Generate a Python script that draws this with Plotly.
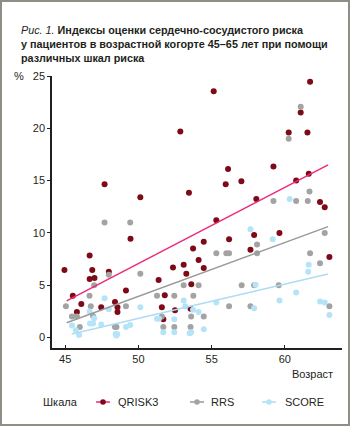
import plotly.graph_objects as go

# ---------------- data ----------------
qrisk_age = [44.95, 45.52, 45.8, 46.1, 46.67, 46.67, 46.85, 47.0, 47.46, 47.69, 47.98, 48.4, 48.57, 48.57,
             49.15, 49.46, 50.13, 51.38, 51.6, 51.7, 51.8, 52.36, 52.5, 52.86, 53.09, 53.27, 53.45, 53.56,
             53.61, 53.73, 54.11, 54.46, 54.46, 55.14, 55.32, 55.96, 56.12, 56.19, 57.03, 57.65, 57.9,
             58.05, 59.22, 59.63, 60.26, 60.77, 61.08, 61.54, 61.63, 61.72, 62.4, 62.72, 63.04]
qrisk_val = [6.45, 4.0, 2.45, 3.2, 7.85, 5.6, 6.45, 5.7, 2.9, 14.65, 6.3, 3.4, 2.9, 2.45,
             4.5, 9.45, 13.4, 5.5, 2.9, 1.75, 4.05, 6.7, 2.6, 19.7, 6.95, 6.1, 13.85, 2.75,
             5.1, 8.5, 7.4, 9.15, 6.65, 23.55, 11.2, 14.65, 16.1, 9.4, 14.95, 8.4, 9.8,
             13.25, 16.35, 10.0, 19.6, 15.0, 21.5, 19.6, 15.65, 24.45, 12.95, 12.45, 7.7]

rrs_age = [45.05, 45.46, 45.8, 46.0, 46.66, 46.75, 46.9, 46.98, 47.69, 47.98, 48.4, 48.5, 49.15, 49.44,
           50.13, 51.27, 51.6, 51.7, 52.45, 52.45, 53.09, 53.6, 53.56, 53.75, 54.11, 54.46, 55.32, 56.0,
           56.19, 56.19, 57.05, 57.65, 57.9, 58.1, 58.1, 59.22, 59.58, 60.26, 60.77, 61.08, 61.56,
           61.68, 61.72, 62.4, 62.72, 63.04]
rrs_val = [3.0, 2.0, 2.0, 1.0, 4.0, 3.0, 2.05, 5.0, 11.0, 6.0, 1.0, 1.0, 3.0, 11.0,
           6.1, 4.0, 2.0, 1.0, 4.0, 1.0, 5.0, 2.0, 1.0, 4.0, 5.0, 2.0, 8.05, 8.05,
           8.05, 3.0, 5.0, 3.0, 5.0, 8.9, 8.05, 13.05, 5.0, 19.0, 13.05, 22.05, 13.05,
           13.95, 8.05, 7.1, 10.0, 3.0]

score_age = [45.46, 45.73, 45.95, 46.67, 46.7, 46.9, 46.98, 47.46, 47.69, 47.98, 48.45, 48.5, 48.55,
             49.15, 49.44, 50.13, 51.27, 51.4, 51.7, 52.45, 52.45, 53.09, 53.2, 53.5, 53.6, 53.73,
             54.11, 54.46, 55.32, 57.65, 57.9, 58.0, 59.17, 59.63, 60.33, 60.77, 61.59, 61.63, 62.4,
             62.72, 63.04]
score_val = [1.15, 0.7, 0.25, 2.5, 1.35, 1.35, 1.85, 1.25, 3.75, 2.7, 0.35, 0.2, 0.35,
             1.0, 1.2, 2.9, 1.8, 1.8, 0.5, 1.75, 0.5, 3.55, 3.0, 0.4, 0.5, 2.65,
             2.45, 0.8, 3.35, 10.35, 2.8, 5.05, 9.4, 3.55, 13.25, 4.3, 6.3, 6.95, 3.45,
             3.35, 2.15]

# trend lines (end points)
qrisk_trend_age = [45.1, 62.95]
qrisk_trend_val = [3.5, 16.5]
rrs_trend_age = [45.1, 62.95]
rrs_trend_val = [1.42, 10.6]
score_trend_age = [45.45, 62.95]
score_trend_val = [0.33, 6.08]

series_names = ["QRISK3", "RRS", "SCORE"]
x_ticks = [45, 50, 55, 60]
y_ticks = [0, 5, 10, 15, 20, 25]

# ---------------- style ----------------
FONT = "Liberation Sans, Arial, Helvetica, sans-serif"
TXT = "#231f20"
dot_colors = ["#7d0a16", "#a3a3a3", "#b5e3f8"]
line_colors = ["#ee2a7b", "#9a9a9a", "#addcf4"]

fig = go.Figure()

for name, xs, ys, dc in zip(series_names, [qrisk_age, rrs_age, score_age],
                            [qrisk_val, rrs_val, score_val], dot_colors):
    fig.add_trace(go.Scatter(x=xs, y=ys, mode="markers", name=name, showlegend=False,
                             marker=dict(size=6, color=dc, line=dict(width=0))))

for name, xs, ys, lc in zip(series_names, [qrisk_trend_age, rrs_trend_age, score_trend_age],
                            [qrisk_trend_val, rrs_trend_val, score_trend_val], line_colors):
    fig.add_trace(go.Scatter(x=xs, y=ys, mode="lines", name=name, showlegend=False,
                             line=dict(color=lc, width=1.5)))

L, R, T, B = 52, 8, 76, 78
W, H = 350, 426
PW, PH = W - L - R, H - T - B

def px(xp):
    return (xp - L) / PW

def py(yp):
    return (H - B - yp) / PH

shapes = [dict(type="rect", xref="paper", yref="paper",
               x0=px(1), x1=px(349), y0=py(425), y1=py(1),
               line=dict(color="#8e8e86", width=2), fillcolor="rgba(0,0,0,0)", layer="above")]

annotations = [
    dict(text="%", xref="paper", yref="paper", x=px(19), y=py(76), xanchor="center",
         yanchor="middle", showarrow=False, font=dict(size=11, color=TXT)),
    dict(text="Возраст", xref="paper", yref="paper", x=px(335), y=py(374), xanchor="right",
         yanchor="middle", showarrow=False, font=dict(size=11, color=TXT)),
    dict(text="Шкала", xref="paper", yref="paper", x=px(41), y=py(402), xanchor="left",
         yanchor="middle", showarrow=False, font=dict(size=11, color=TXT)),
]

# hand-built legend (short line with dot, like the reference)
legend_mark_x = [103, 197, 269]
legend_text_x = [116, 209, 283]
LY = 402
for name, mx, tx, dc, lc in zip(series_names, legend_mark_x, legend_text_x, dot_colors, line_colors):
    shapes.append(dict(type="line", xref="paper", yref="paper",
                       x0=px(mx - 7), x1=px(mx + 7), y0=py(LY), y1=py(LY),
                       line=dict(color=lc, width=1.5)))
    shapes.append(dict(type="circle", xref="paper", yref="paper",
                       x0=px(mx - 2.8), x1=px(mx + 2.8), y0=py(LY + 2.8), y1=py(LY - 2.8),
                       line=dict(width=0), fillcolor=dc))
    annotations.append(dict(text=name, xref="paper", yref="paper", x=px(tx), y=py(LY),
                            xanchor="left", yanchor="middle", showarrow=False,
                            font=dict(size=11, color=TXT)))

fig.update_layout(
    width=W, height=H,
    margin=dict(l=L, r=R, t=T, b=B, pad=0),
    paper_bgcolor="white", plot_bgcolor="white",
    font=dict(family=FONT, size=11, color=TXT),
    title=dict(text="<i>Рис. 1.</i> <b>Индексы оценки сердечно-сосудистого риска</b><br>"
                    "<b>у пациентов в возрастной когорте 45–65 лет при помощи</b><br>"
                    "<b>различных шкал риска</b>",
               xref="container", yref="container", x=21 / W, xanchor="left",
               y=1 - 34 / H, yanchor="top", font=dict(size=10.8, color=TXT, family=FONT)),
    xaxis=dict(range=[44.1, 63.9], tickvals=x_ticks, ticks="inside", ticklen=3,
               tickcolor=TXT, showline=True, linecolor=TXT, linewidth=1.5,
               showgrid=False, zeroline=False, tickfont=dict(size=11)),
    yaxis=dict(range=[-1, 25], tickvals=y_ticks, ticks="outside", ticklen=3,
               tickcolor=TXT, showline=True, linecolor=TXT, linewidth=1.5,
               showgrid=False, zeroline=False, tickfont=dict(size=11)),
    showlegend=False,
    shapes=shapes,
    annotations=annotations,
)

fig.write_html("out.html")
